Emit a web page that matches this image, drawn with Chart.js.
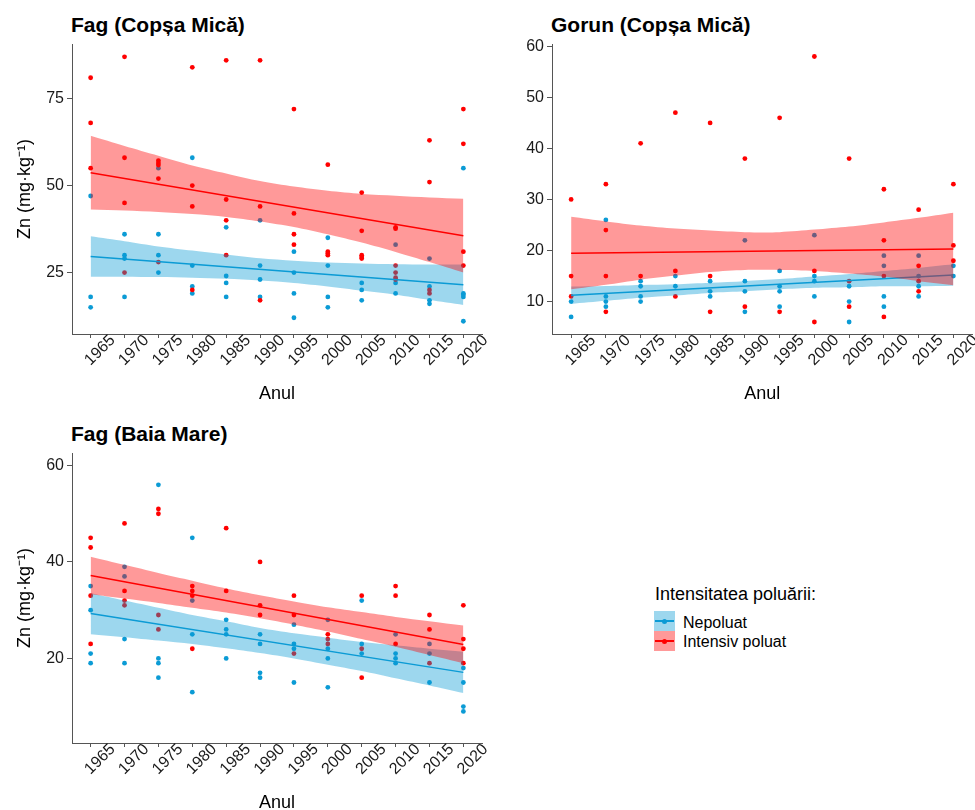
<!DOCTYPE html>
<html lang="ro">
<head>
<meta charset="UTF-8">
<title>Zn - Fag si Gorun</title>
<script src="https://cdn.jsdelivr.net/npm/chart.js@4"></script>
<style>
    * { margin: 0; padding: 0; box-sizing: border-box; }

    body {
        width: 975px;
        height: 810px;
        overflow: hidden;
        position: relative;
        background: #fff;
        font-family: "Liberation Sans", Arial, sans-serif;
        color: #000;
    }

    canvas { position: absolute; }

    .panel-title {
        position: absolute;
        font-weight: bold;
        font-size: 21px;
        line-height: 21px;
        white-space: nowrap;
    }

    /* Legend */
    .legend-title {
        position: absolute;
        left: 655px;
        top: 585px;
        font-size: 18px;
        line-height: 18px;
        white-space: nowrap;
    }

    .key {
        position: absolute;
        left: 654px;
        width: 21px;
        height: 20px;
    }
    .key::before {
        content: '';
        position: absolute;
        left: 1px; right: 1px;
        top: 9px;
        height: 1.5px;
        background: var(--c);
    }
    .key::after {
        content: '';
        position: absolute;
        left: 8px; top: 7.5px;
        width: 5px; height: 5px;
        border-radius: 50%;
        background: var(--c);
    }

    .key-label {
        position: absolute;
        left: 683px;
        font-size: 16px;
        line-height: 16px;
        white-space: nowrap;
    }
</style>
</head>
<body>

    <div class="panel-title" style="left:71px; top:14px">Fag (Copșa Mică)</div>
    <div class="panel-title" style="left:551px; top:14px">Gorun (Copșa Mică)</div>
    <div class="panel-title" style="left:71px; top:423px">Fag (Baia Mare)</div>

    <canvas id="fagCm" width="490" height="414" style="left:0; top:0"></canvas>
    <canvas id="gorunCm" width="485" height="414" style="left:490px; top:0"></canvas>
    <canvas id="fagBm" width="490" height="414" style="left:0; top:409px"></canvas>

    <!-- Legend -->
    <div class="legend-title">Intensitatea poluării:</div>
    <div class="key" style="top:611px; background:rgba(11,155,213,0.4); --c:#0b9bd5"></div>
    <div class="key" style="top:631px; background:rgba(255,0,0,0.4); --c:#ff0000"></div>
    <div class="key-label" style="top:615px">Nepoluat</div>
    <div class="key-label" style="top:634px">Intensiv poluat</div>

<script>
    const years = [1965, 1970, 1975, 1980, 1985, 1990, 1995, 2000, 2005, 2010, 2015, 2020];
    const fitYears = [1965, 2020];

    // Fag (Copsa Mica) - values per year
    const fagCmNepoluat = [
        [47, 18, 15], [36, 30, 29, 18], [55, 36, 30, 25], [58, 27, 21, 19],
        [38, 24, 22, 18], [40, 27, 23, 18], [31, 25, 19, 12], [35, 27, 18, 15],
        [22, 20, 17], [33, 22, 19], [29, 21, 17, 16], [55, 19, 18.6, 18, 11]
    ];
    const fagCmPoluat = [
        [81, 68, 55], [87, 58, 45, 25], [57.2, 56.5, 55.9, 52, 28], [84, 50, 44, 20],
        [86, 46, 40, 30], [86, 44, 17], [72, 42, 36, 33], [56, 31, 30.5, 30],
        [48, 37, 30, 29.5, 29], [38, 37.6, 27, 25, 23.5, 23], [63, 51, 20, 19], [72, 62, 31, 27]
    ];
    const fagCmNepoluatFit = [29.6, 21.5];
    const fagCmNepoluatUpper = [35.4, 34.0, 32.5, 31.3, 30.2, 29.1, 28.4, 27.9, 27.6, 27.4, 27.3, 27.3];
    const fagCmNepoluatLower = [23.8, 23.8, 23.7, 23.5, 23.2, 22.7, 22.0, 21.0, 19.8, 18.6, 17.1, 15.7];
    const fagCmPoluatFit = [53.7, 35.6];
    const fagCmPoluatUpper = [64.3, 61.4, 58.6, 55.8, 53.5, 51.3, 49.7, 48.5, 47.6, 47.1, 46.6, 46.2];
    const fagCmPoluatLower = [43.1, 42.8, 42.4, 41.8, 41.0, 39.7, 38.1, 36.0, 33.6, 30.9, 28.0, 25.0];
    const fagCmTicks = [25, 50, 75];

    // Gorun (Copsa Mica)
    const gorunNepoluat = [
        [10, 7], [26, 11, 10, 9], [14, 13, 11, 10], [15, 13],
        [14, 12, 11], [22, 14, 12, 8], [16, 13, 12, 9], [23, 15, 14, 11],
        [13, 10, 6], [19, 17, 11, 9], [19, 15, 13, 11], [17, 15]
    ];
    const gorunPoluat = [
        [30, 15, 11], [33, 24, 15, 8], [41, 15], [47, 16, 11],
        [45, 15, 8], [38, 9], [46, 8], [58, 16, 6],
        [38, 14, 9], [32, 22, 15, 7], [28, 17, 14, 12], [33, 21, 18]
    ];
    const gorunNepoluatFit = [11.25, 15.2];
    const gorunNepoluatUpper = [12.95, 13.05, 13.25, 13.4, 13.7, 14.0, 14.4, 14.9, 15.4, 16.0, 16.6, 17.3];
    const gorunNepoluatLower = [9.55, 10.15, 10.75, 11.2, 11.7, 12.0, 12.4, 12.7, 12.8, 13.0, 13.0, 13.1];
    const gorunPoluatFit = [19.45, 20.3];
    const gorunPoluatUpper = [26.6, 25.7, 24.9, 24.3, 23.9, 23.6, 23.6, 24.1, 24.7, 25.5, 26.4, 27.4];
    const gorunPoluatLower = [12.4, 13.3, 14.3, 15.1, 15.8, 16.2, 16.2, 16.0, 15.5, 14.9, 14.0, 13.2];
    const gorunTicks = [10, 20, 30, 40, 50, 60];

    // Fag (Baia Mare)
    const fagBmNepoluat = [
        [35, 30, 21, 19], [39, 37, 24, 19], [56, 20, 19, 16], [45, 32, 25, 13],
        [28, 26, 25, 20], [25, 23, 17, 16], [27, 23, 22, 15], [28, 22, 20, 14],
        [32, 23, 21], [25, 21, 20, 19], [23, 21, 15], [18, 15, 10, 9]
    ];
    const fagBmPoluat = [
        [45, 43, 33, 23], [48, 34, 32, 31], [51, 50, 29, 26], [35, 34, 33, 22],
        [47, 34], [40, 31, 29], [33, 29, 21], [25, 24, 23],
        [33, 22, 16], [35, 33, 23], [29, 26, 19], [31, 24, 22, 19]
    ];
    const fagBmNepoluatFit = [29.3, 17.1];
    const fagBmNepoluatUpper = [33.5, 32.0, 30.5, 29.0, 27.7, 26.3, 25.2, 24.3, 23.4, 22.7, 22.0, 21.4];
    const fagBmNepoluatLower = [25.0, 24.4, 23.7, 23.0, 22.1, 21.1, 20.0, 18.7, 17.4, 15.9, 14.4, 12.8];
    const fagBmPoluatFit = [37.2, 22.9];
    const fagBmPoluatUpper = [41.1, 39.4, 37.7, 36.1, 34.5, 33.1, 31.8, 30.6, 29.6, 28.6, 27.7, 26.8];
    const fagBmPoluatLower = [33.3, 32.4, 31.5, 30.5, 29.5, 28.3, 27.0, 25.6, 24.0, 22.4, 20.7, 19.0];
    const fagBmTicks = [20, 40, 60];

    const BLUE = '#0b9bd5';
    const RED = '#ff0000';
    const BLUE_FILL = 'rgba(11,155,213,0.4)';
    const RED_FILL = 'rgba(255,0,0,0.4)';
    const AXIS = '#555';
    const TEXT = '#1a1a1a';

    function pointsOf(groups) {
        const pts = [];
        groups.forEach((vals, i) => vals.forEach(v => pts.push({ x: years[i], y: v })));
        return pts;
    }
    const lineOf = (xs, ys) => xs.map((x, i) => ({ x, y: ys[i] }));

    function groupSets(points, fit, upper, lower, color, fillColor, base) {
        return {
            points: { type: 'scatter', data: pointsOf(points), order: base + 3, pointRadius: 2.4,
                      pointBorderWidth: 0, pointBackgroundColor: color, pointHoverRadius: 2.4 },
            band: [
                { type: 'line', data: lineOf(years, upper), order: base + 1, fill: '+1', backgroundColor: fillColor,
                  borderColor: 'rgba(0,0,0,0)', pointRadius: 0, tension: 0.3 },
                { type: 'line', data: lineOf(years, lower), order: base + 1, fill: false,
                  borderColor: 'rgba(0,0,0,0)', pointRadius: 0, tension: 0.3 }
            ],
            line: { type: 'line', data: lineOf(fitYears, fit), order: base, fill: false,
                    borderColor: color, borderWidth: 1.5, pointRadius: 0 }
        };
    }

    function makePanel(id, o) {
        const blue = groupSets(o.blue, o.blueFit, o.blueUpper, o.blueLower, BLUE, BLUE_FILL, 3);
        const red = groupSets(o.red, o.redFit, o.redUpper, o.redLower, RED, RED_FILL, 1);
        blue.points.order = 7;
        red.points.order = 6;

        new Chart(document.getElementById(id), {
            type: 'scatter',
            data: {
                datasets: [blue.points, red.points, ...blue.band, blue.line, ...red.band, red.line]
            },
            options: {
                responsive: false,
                animation: false,
                events: [],
                layout: { padding: { left: 0, top: 44, right: o.padRight, bottom: 0 } },
                plugins: { legend: { display: false }, tooltip: { enabled: false } },
                scales: {
                    x: {
                        type: 'linear',
                        min: 1962.25,
                        max: 2022.75,
                        afterBuildTicks: s => { s.ticks = years.map(v => ({ value: v })); },
                        afterFit: s => { s.height = 80; },
                        grid: { drawOnChartArea: false, drawTicks: true, tickLength: 4, color: AXIS },
                        border: { display: true, color: AXIS, width: 1 },
                        ticks: {
                            autoSkip: false, minRotation: 45, maxRotation: 45,
                            padding: -7, labelOffset: 22,
                            color: TEXT, font: { family: 'Liberation Sans', size: 16 },
                            callback: v => String(v)
                        },
                        title: {
                            display: true, text: 'Anul', color: '#000',
                            font: { family: 'Liberation Sans', size: 18, lineHeight: 1.2 },
                            padding: { top: 0, bottom: 9 }
                        }
                    },
                    y: {
                        type: 'linear',
                        min: o.yMin,
                        max: o.yMax,
                        afterBuildTicks: s => { s.ticks = o.ticks.map(v => ({ value: v })); },
                        afterFit: s => { s.width = o.yWidth; },
                        grid: { drawOnChartArea: false, drawTicks: true, tickLength: 5, color: AXIS },
                        border: { display: true, color: AXIS, width: 1 },
                        ticks: {
                            padding: 3, color: TEXT,
                            font: { family: 'Liberation Sans', size: 16 },
                            callback: v => String(v)
                        },
                        title: {
                            display: o.yTitle, text: 'Zn (mg·kg⁻¹)', color: '#000',
                            font: { family: 'Liberation Sans', size: 18, lineHeight: 1.2 },
                            padding: { top: 14, bottom: 0 }
                        }
                    }
                }
            }
        });
    }

    makePanel('fagCm', {
        blue: fagCmNepoluat, blueFit: fagCmNepoluatFit, blueUpper: fagCmNepoluatUpper, blueLower: fagCmNepoluatLower,
        red: fagCmPoluat, redFit: fagCmPoluatFit, redUpper: fagCmPoluatUpper, redLower: fagCmPoluatLower,
        yMin: 7.33, yMax: 90.7, ticks: fagCmTicks, yWidth: 72, yTitle: true, padRight: 8
    });

    makePanel('gorunCm', {
        blue: gorunNepoluat, blueFit: gorunNepoluatFit, blueUpper: gorunNepoluatUpper, blueLower: gorunNepoluatLower,
        red: gorunPoluat, redFit: gorunPoluatFit, redUpper: gorunPoluatUpper, redLower: gorunPoluatLower,
        yMin: 3.65, yMax: 60.45, ticks: gorunTicks, yWidth: 62, yTitle: false, padRight: 2.5
    });

    makePanel('fagBm', {
        blue: fagBmNepoluat, blueFit: fagBmNepoluatFit, blueUpper: fagBmNepoluatUpper, blueLower: fagBmNepoluatLower,
        red: fagBmPoluat, redFit: fagBmPoluatFit, redUpper: fagBmPoluatUpper, redLower: fagBmPoluatLower,
        yMin: 2.45, yMax: 62.6, ticks: fagBmTicks, yWidth: 72, yTitle: true, padRight: 8
    });
</script>
</body>
</html>
